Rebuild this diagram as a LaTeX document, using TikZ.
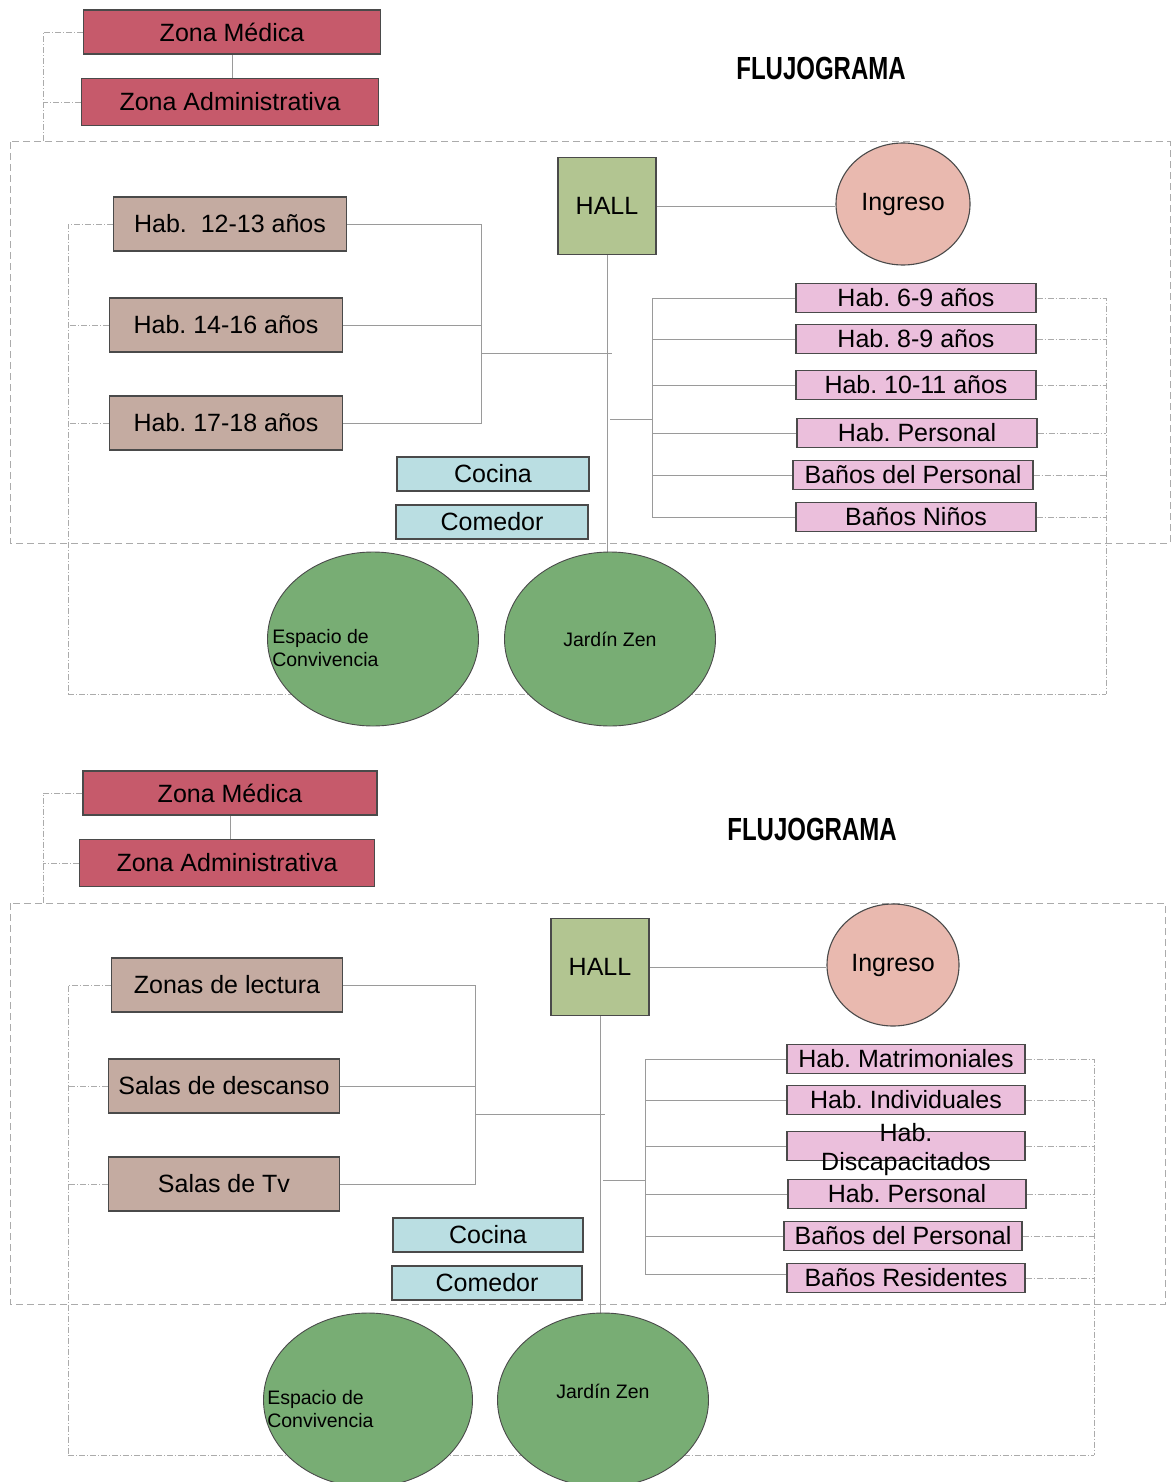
\documentclass[tikz,border=0pt]{standalone}
\usepackage{fontspec}
\setmainfont{Liberation Sans}
\newfontfamily\titlefont[FakeStretch=0.75]{Liberation Sans}
\usepackage{xcolor}
\usetikzlibrary{shapes.geometric, positioning, backgrounds}
\definecolor{zonared}{HTML}{C65A6B}
\definecolor{taupe}{HTML}{C4ABA1}
\definecolor{hallgreen}{HTML}{B2C591}
\definecolor{ingresopink}{HTML}{E9B9AF}
\definecolor{roompink}{HTML}{EBBFDC}
\definecolor{kitchenblue}{HTML}{BADEE2}
\definecolor{gardengreen}{HTML}{78AD74}
\definecolor{edgegray}{HTML}{4A4A4A}
\definecolor{linkgray}{HTML}{9A9A9A}
\definecolor{dashgray}{HTML}{ABABAB}
\frenchspacing

\begin{document}
\begin{tikzpicture}[x=1pt, y=-1pt, inner sep=0pt]
    \tikzstyle{box} = [rectangle, draw=edgegray, line width=1.1pt, font=\fontsize{25}{29}\selectfont]
    \tikzstyle{zone} = [box, fill=zonared, minimum width=297, minimum height=44]
    \tikzstyle{hall} = [box, fill=hallgreen, minimum width=98, minimum height=97]
    \tikzstyle{ingreso} = [ellipse, draw=edgegray, line width=1.1pt, fill=ingresopink, minimum width=134, minimum height=122, font=\fontsize{25}{29}\selectfont]
    \tikzstyle{room} = [box, fill=taupe, minimum width=233, minimum height=54]
    \tikzstyle{pinkroom} = [box, fill=roompink, minimum width=240, minimum height=29]
    \tikzstyle{kitchen} = [box, fill=kitchenblue, minimum width=192, minimum height=34]
    \tikzstyle{garden} = [ellipse, draw=edgegray, line width=0.9pt, fill=gardengreen, minimum width=211, minimum height=174, font=\fontsize{19.5}{23}\selectfont]
    \tikzstyle{smalltext} = [font=\fontsize{19.5}{23}\selectfont]
    \tikzstyle{title} = [font=\titlefont\bfseries\fontsize{32}{36}\selectfont]
    \tikzstyle{link} = [draw=linkgray, line width=1pt]
    \tikzstyle{dotlink} = [draw=dashgray, line width=0.9pt, dash pattern=on 6pt off 2pt on 1pt off 2pt]
    \tikzstyle{zonebox} = [draw=dashgray, line width=1pt, dash pattern=on 7pt off 4pt]

    \useasboundingbox (0,0) rectangle (1171,1482);

    \node [zone] (medica1) at (232,32) {Zona Médica};
    \node [zone, minimum height=47] (admin1) at (230,102) {Zona Administrativa};
    \node [title] (titulo1) at (821,68) {FLUJOGRAMA};
    \node [hall] (hall1) at (607,206) {HALL};
    \node [ingreso] (ingreso1) at (903,204) {Ingreso};
    \node [room] (hab1213) at (230,224) {Hab.~~12-13 años};
    \node [room] (hab1416) at (226,325) {Hab. 14-16 años};
    \node [room] (hab1718) at (226,423) {Hab. 17-18 años};
    \node [kitchen] (cocina1) at (493,474) {Cocina};
    \node [kitchen] (comedor1) at (492,522) {Comedor};
    \node [garden] (espacio1) at (373,639) {};
    \node [smalltext, align=left, right=5pt of espacio1.west, yshift=-9pt] (espaciotxt1) {Espacio de\\Convivencia};
    \node [garden] (jardin1) at (610,639) {Jardín Zen};
    \node [pinkroom] (hab69) at (916,298) {Hab. 6-9 años};
    \node [pinkroom] (hab89) at (916,339) {Hab. 8-9 años};
    \node [pinkroom] (hab1011) at (916,385) {Hab. 10-11 años};
    \node [pinkroom] (personal1) at (917,433) {Hab. Personal};
    \node [pinkroom] (banospers1) at (913,475) {Baños del Personal};
    \node [pinkroom] (banosninos) at (916,517) {Baños Niños};

    \coordinate (zdash1) at (43,142);
    \coordinate (ljoin1) at (481,353);
    \coordinate (rjoin1) at (652,419);
    \coordinate (ldash1) at (68,694);
    \coordinate (rdash1) at (1106,694);

    \begin{scope}[on background layer]
        \draw [zonebox] (10,142) rectangle (1170,543);
        \path [dotlink] (medica1.west) -| (zdash1);
        \path [dotlink] (admin1.west) -- (admin1.west -| zdash1);
        \path [link] (medica1.south) -- (medica1.south |- admin1.north);
        \path [link] (hall1.east) -- (hall1.east -| ingreso1.west);
        \path [link] (hall1.south) -- (hall1.south |- jardin1.north);
        \path [link] (hab1213.east) -| (ljoin1);
        \path [link] (hab1416.east) -- (hab1416.east -| ljoin1);
        \path [link] (hab1718.east) -| (ljoin1);
        \path [link] (ljoin1) -- ++(131,0);
        \path [link] (hall1.south |- rjoin1) ++(3,0) -- (rjoin1);
        \path [link] (hab69.west) -| (rjoin1);
        \path [link] (banosninos.west) -| (rjoin1);
        \foreach \n in {hab89, hab1011, personal1, banospers1}
            \path [link] (\n.west) -- (\n.west -| rjoin1);
        \path [dotlink] (hab1213.west) -| (ldash1);
        \path [dotlink] (hab1416.west) -- (hab1416.west -| ldash1);
        \path [dotlink] (hab1718.west) -- (hab1718.west -| ldash1);
        \path [dotlink] (ldash1) -- (rdash1);
        \path [dotlink] (hab69.east) -| (rdash1);
        \foreach \n in {hab89, hab1011, personal1, banospers1, banosninos}
            \path [dotlink] (\n.east) -- (\n.east -| rdash1);
    \end{scope}

    \node [zone, minimum width=294] (medica2) at (230,793) {Zona Médica};
    \node [zone, minimum width=295, minimum height=47] (admin2) at (227,863) {Zona Administrativa};
    \node [title] (titulo2) at (812,829) {FLUJOGRAMA};
    \node [hall] (hall2) at (600,967) {HALL};
    \node [ingreso, minimum width=132] (ingreso2) at (893,965) {Ingreso};
    \node [room, minimum width=231] (lectura) at (227,985) {Zonas de lectura};
    \node [room, minimum width=231] (descanso) at (224,1086) {Salas de descanso};
    \node [room, minimum width=231] (salastv) at (224,1184) {Salas de Tv};
    \node [kitchen, minimum width=190] (cocina2) at (488,1235) {Cocina};
    \node [kitchen, minimum width=190] (comedor2) at (487,1283) {Comedor};
    \node [garden, minimum width=209] (espacio2) at (368,1400) {};
    \node [smalltext, align=left, right=4pt of espacio2.west, yshift=-9pt] (espaciotxt2) {Espacio de\\Convivencia};
    \node [garden, text depth=18pt] (jardin2) at (603,1400) {Jardín Zen};
    \node [pinkroom, minimum width=238] (matrim) at (906,1059) {Hab. Matrimoniales};
    \node [pinkroom, minimum width=238] (individ) at (906,1100) {Hab. Individuales};
    \node [pinkroom, minimum width=238, label={[box, draw=none, align=center, yshift=-4pt]center:Hab.\\Discapacitados}] (discap) at (906,1146) {};
    \node [pinkroom, minimum width=238] (personal2) at (907,1194) {Hab. Personal};
    \node [pinkroom, minimum width=238] (banospers2) at (903,1236) {Baños del Personal};
    \node [pinkroom, minimum width=238] (banosres) at (906,1278) {Baños Residentes};

    \coordinate (zdash2) at (43,903);
    \coordinate (ljoin2) at (475,1114);
    \coordinate (rjoin2) at (645,1180);
    \coordinate (ldash2) at (68,1455);
    \coordinate (rdash2) at (1094,1455);

    \begin{scope}[on background layer]
        \draw [zonebox] (10,903) rectangle (1165,1304);
        \path [dotlink] (medica2.west) -| (zdash2);
        \path [dotlink] (admin2.west) -- (admin2.west -| zdash2);
        \path [link] (medica2.south) -- (medica2.south |- admin2.north);
        \path [link] (hall2.east) -- (hall2.east -| ingreso2.west);
        \path [link] (hall2.south) -- (hall2.south |- jardin2.north);
        \path [link] (lectura.east) -| (ljoin2);
        \path [link] (descanso.east) -- (descanso.east -| ljoin2);
        \path [link] (salastv.east) -| (ljoin2);
        \path [link] (ljoin2) -- ++(130,0);
        \path [link] (hall2.south |- rjoin2) ++(3,0) -- (rjoin2);
        \path [link] (matrim.west) -| (rjoin2);
        \path [link] (banosres.west) ++(0,-4) -| (rjoin2);
        \foreach \n in {individ, discap, personal2, banospers2}
            \path [link] (\n.west) -- (\n.west -| rjoin2);
        \path [dotlink] (lectura.west) -| (ldash2);
        \path [dotlink] (descanso.west) -- (descanso.west -| ldash2);
        \path [dotlink] (salastv.west) -- (salastv.west -| ldash2);
        \path [dotlink] (ldash2) -- (rdash2);
        \path [dotlink] (matrim.east) -| (rdash2);
        \foreach \n in {individ, discap, personal2, banospers2, banosres}
            \path [dotlink] (\n.east) -- (\n.east -| rdash2);
    \end{scope}
\end{tikzpicture}
\end{document}
